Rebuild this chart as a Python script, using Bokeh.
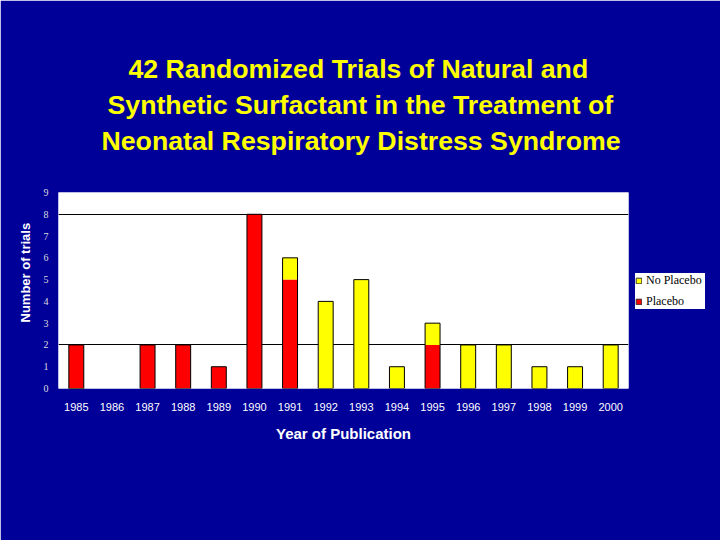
import numpy as np
from bokeh.plotting import figure
from bokeh.models import FactorRange, FixedTicker, Legend, LegendItem, Range1d, Title
from bokeh.embed import file_html
from bokeh.resources import INLINE

years = ["1985", "1986", "1987", "1988", "1989", "1990", "1991", "1992",
         "1993", "1994", "1995", "1996", "1997", "1998", "1999", "2000"]
placebo = [2, 0, 2, 2, 1, 8, 5, 0, 0, 0, 2, 0, 0, 0, 0, 0]
no_placebo = [0, 0, 0, 0, 0, 0, 1, 4, 5, 1, 1, 2, 2, 1, 1, 2]
y_ticks = [0, 1, 2, 3, 4, 5, 6, 7, 8, 9]
grid_lines = [2, 8]
title_lines = ["42 Randomized Trials of Natural and",
               "Synthetic Surfactant in the Treatment of",
               "Neonatal Respiratory Distress Syndrome"]
title_offsets = [70, 49, 43]

BG = "#000099"
RED = "#FF0000"
YELLOW = "#FFFF00"

p = figure(frame_width=570, frame_height=196, x_range=FactorRange(*years), y_range=Range1d(0, 9),
           output_backend="svg", toolbar_location=None, title=None,
           min_border_left=58, min_border_right=92, min_border_top=192, min_border_bottom=152)
p.background_fill_color = "white"
p.border_fill_color = BG
p.outline_line_color = None

pl = np.array(placebo)
npl = np.array(no_placebo)
tot = pl + npl
yrs = np.array(years)
m1 = pl > 0
m2 = npl > 0
mt = tot > 0
p.vbar(x=list(yrs[m1]), bottom=0, top=list(pl[m1]), width=0.42,
       fill_color=RED, line_color=None)
p.vbar(x=list(yrs[m2]), bottom=list(pl[m2]), top=list(tot[m2]), width=0.42,
       fill_color=YELLOW, line_color=None)
p.vbar(x=list(yrs[mt]), bottom=0, top=list(tot[mt]), width=0.42,
       fill_color=None, line_color="black", line_width=1)

# legend-only renderers, placed below the visible y range (clipped away),
# so that the legend swatches get a dark outline
leg_pl = p.vbar(x=[years[0]], bottom=[-3], top=[-2], width=0.42,
                fill_color=RED, line_color="#333333")
leg_np = p.vbar(x=[years[0]], bottom=[-3], top=[-2], width=0.42,
                fill_color=YELLOW, line_color="#333333")

# spacer between the frame and the last title line
p.add_layout(Title(text=" ", text_font_size="26.7px", text_font="Liberation Sans",
                   text_color=BG, standoff=3), "above")
for line, off in reversed(list(zip(title_lines, title_offsets))):
    t = Title(text=line, align="left", offset=off,
              text_font="Liberation Sans", text_font_style="bold", text_font_size="26.7px",
              text_color=YELLOW, standoff=4)
    p.add_layout(t, "above")

p.xgrid.grid_line_color = None
p.ygrid.ticker = FixedTicker(ticks=grid_lines)
p.ygrid.grid_line_color = "black"
p.ygrid.grid_line_alpha = 1.0
p.ygrid.grid_line_width = 1

p.yaxis.ticker = FixedTicker(ticks=y_ticks)
for ax in (p.xaxis[0], p.yaxis[0]):
    ax.axis_line_color = None
    ax.major_tick_line_color = None
    ax.minor_tick_line_color = None
    ax.major_tick_out = 0
    ax.major_tick_in = 0

p.yaxis.major_label_text_font = "Liberation Serif"
p.yaxis.major_label_text_font_size = "10px"
p.yaxis.major_label_text_color = "#DDDDDD"
p.yaxis.major_label_standoff = 10

p.add_layout(Title(text="Number of trials", align="left", offset=66,
                   text_font="Liberation Sans", text_font_style="bold",
                   text_font_size="13px", text_color="white", standoff=16), "left")

p.xaxis.major_label_text_font = "Liberation Sans"
p.xaxis.major_label_text_font_size = "11px"
p.xaxis.major_label_text_color = "white"
p.xaxis.major_label_standoff = 14
p.xaxis.axis_label = "Year of Publication"
p.xaxis.axis_label_text_font = "Liberation Sans"
p.xaxis.axis_label_text_font_style = "bold"
p.xaxis.axis_label_text_font_size = "15px"
p.xaxis.axis_label_text_color = "white"
p.xaxis.axis_label_standoff = 11

legend = Legend(items=[LegendItem(label="No Placebo", renderers=[leg_np]),
                       LegendItem(label="Placebo", renderers=[leg_pl])],
                location=(7, 79), orientation="vertical",
                label_text_font="Liberation Serif", label_text_font_size="12px",
                label_text_color="black", glyph_width=7, glyph_height=7,
                label_height=12, label_width=59, label_standoff=4, spacing=6,
                padding=4, margin=0,
                border_line_color=None, background_fill_color="white",
                background_fill_alpha=1.0)
p.add_layout(legend, "right")

open("out.html", "w").write(file_html(p, INLINE))
